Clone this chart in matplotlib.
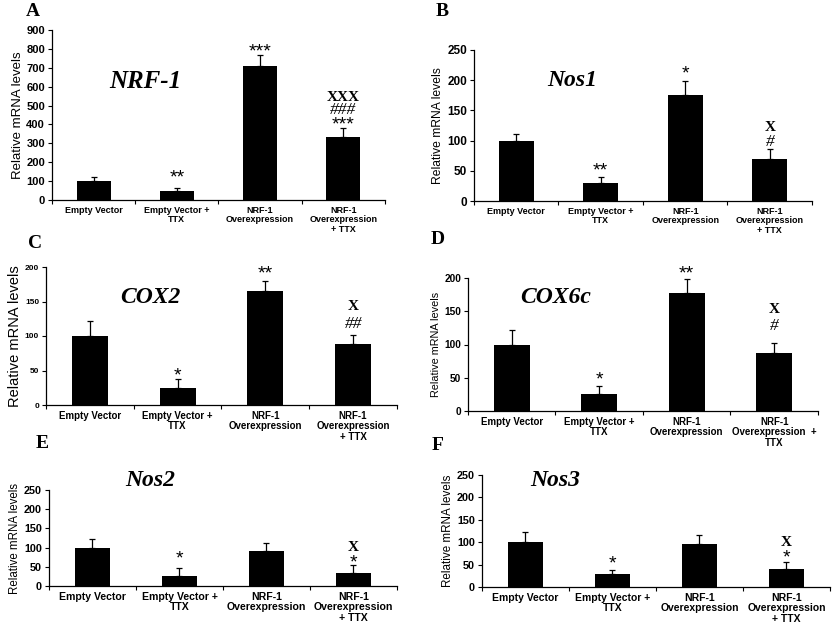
from matplotlib import pyplot as plt
import numpy as np

# Groups on the x axis
groups = ['Empty Vector', 'Empty Vector +\nTTX', 'NRF-1\nOverexpression', 'NRF-1\nOverexpression\n+ TTX']
groups_d = ['Empty Vector', 'Empty Vector +\nTTX', 'NRF-1\nOverexpression', 'NRF-1\nOverexpression  +\nTTX']

# Mean values and (upper) error bars
nrf1_mean = [100, 48, 709, 335]
nrf1_err = [20, 14, 58, 45]
nos1_mean = [100, 29, 175, 69]
nos1_err = [11, 10, 24, 17]
cox2_mean = [100, 25, 165, 89]
cox2_err = [22, 12, 14, 12]
cox6c_mean = [100, 26, 177, 87]
cox6c_err = [22, 12, 21, 16]
nos2_mean = [100, 26, 91, 34]
nos2_err = [22, 20, 20, 20]
nos3_mean = [100, 28, 96, 40]
nos3_err = [23, 11, 19, 16]

# Significance marks: (bar index, y value, text)
nrf1_marks = [(1, 115, '**'), (2, 785, '***'), (3, 395, '***'), (3, 474, '###'), (3, 545, 'XXX')]
nos1_marks = [(1, 50, '**'), (2, 210, '*'), (3, 97, '#'), (3, 121, 'X')]
cox2_marks = [(1, 42, '*'), (2, 190, '**'), (3, 118, '##'), (3, 143, 'X')]
cox6c_marks = [(1, 47, '*'), (2, 206, '**'), (3, 128, '#'), (3, 152, 'X')]
nos2_marks = [(1, 70, '*'), (3, 60, '*'), (3, 100, 'X')]
nos3_marks = [(1, 52, '*'), (3, 64, '*'), (3, 100, 'X')]

W, H = 837, 638
fig = plt.figure(figsize=(W / 100, H / 100), dpi=100)


def panel(rect, letter, letter_xy, gene, gene_xy, gene_size, labels, mean, err, marks,
          ymax, ystep, xfont, yfont, lfont):
    # rect given in pixels: left, top, right, bottom
    l, t, r, b = rect
    ax = fig.add_axes([l / W, 1 - b / H, (r - l) / W, (b - t) / H])
    x = np.arange(len(mean)) + 0.5
    ax.bar(x, mean, width=0.41, color='black', zorder=2)
    ax.errorbar(x, mean, yerr=[np.zeros(len(err)), err], fmt='none', ecolor='black',
                elinewidth=0.9, capsize=2, capthick=0.9, zorder=1)
    ax.set_xlim(0, len(mean))
    ax.set_ylim(0, ymax)
    ax.set_yticks(np.arange(0, ymax + 1, ystep))
    ax.set_xticks(x)
    ax.set_xticklabels(labels, fontsize=xfont, fontweight='bold', family='Liberation Sans',
                       linespacing=1.1)
    ax.set_xticks(np.arange(0, len(mean) + 1), minor=True)
    ax.tick_params(axis='x', which='major', length=0, pad=4)
    ax.tick_params(axis='x', which='minor', length=3, direction='out', width=0.8)
    ax.tick_params(axis='y', length=3, width=0.8, pad=2)
    for lab in ax.get_yticklabels():
        lab.set_fontsize(yfont)
        lab.set_fontweight('bold')
        lab.set_family('Liberation Sans')
    ax.spines['top'].set_visible(False)
    ax.spines['right'].set_visible(False)
    ax.spines['left'].set_linewidth(0.9)
    ax.spines['bottom'].set_linewidth(0.9)
    ax.set_ylabel('Relative mRNA levels', fontsize=lfont, family='Liberation Sans', labelpad=2)
    for i, yv, txt in marks:
        if 'X' in txt:
            ax.text(x[i], yv, txt, ha='center', va='center', fontsize=11, fontweight='bold',
                    family='Liberation Serif')
        elif '#' in txt:
            ax.text(x[i], yv, txt, ha='center', va='center', fontsize=12.5, style='italic',
                    family='Liberation Serif')
        else:
            ax.text(x[i], yv, txt, ha='center', va='center', fontsize=14,
                    family='Liberation Sans')
    ax.text(gene_xy[0], gene_xy[1], gene, transform=ax.transAxes, ha='center', va='center',
            fontsize=gene_size, fontweight='bold', style='italic', family='Liberation Serif')
    fig.text(letter_xy[0] / W, 1 - letter_xy[1] / H, letter, ha='center', va='center',
             fontsize=14, fontweight='bold', family='Liberation Serif')
    return ax


panel((52, 30, 385, 200), 'A', (33, 12), 'NRF-1', (0.28, 0.70), 18, groups,
      nrf1_mean, nrf1_err, nrf1_marks, 900, 100, 6.5, 8, 9.5)
panel((474, 50, 812, 201), 'B', (442, 12), 'Nos1', (0.29, 0.80), 17, groups,
      nos1_mean, nos1_err, nos1_marks, 250, 50, 6.5, 8.5, 8.7)
panel((46, 267, 397, 405), 'C', (35, 243), 'COX2', (0.296, 0.78), 17, groups,
      cox2_mean, cox2_err, cox2_marks, 200, 50, 7, 6, 10.5)
panel((468, 278, 818, 411), 'D', (438, 240), 'COX6c', (0.25, 0.85), 17, groups_d,
      cox6c_mean, cox6c_err, cox6c_marks, 200, 50, 7, 7.3, 7.8)
panel((49, 490, 397, 586), 'E', (42, 443), 'Nos2', (0.29, 1.10), 17, groups,
      nos2_mean, nos2_err, nos2_marks, 250, 50, 7.6, 7.8, 8.3)
panel((482, 475, 830, 587), 'F', (438, 445), 'Nos3', (0.21, 0.955), 17, groups,
      nos3_mean, nos3_err, nos3_marks, 250, 50, 7.5, 7.8, 8.4)

plt.savefig('out.png', dpi=100)
